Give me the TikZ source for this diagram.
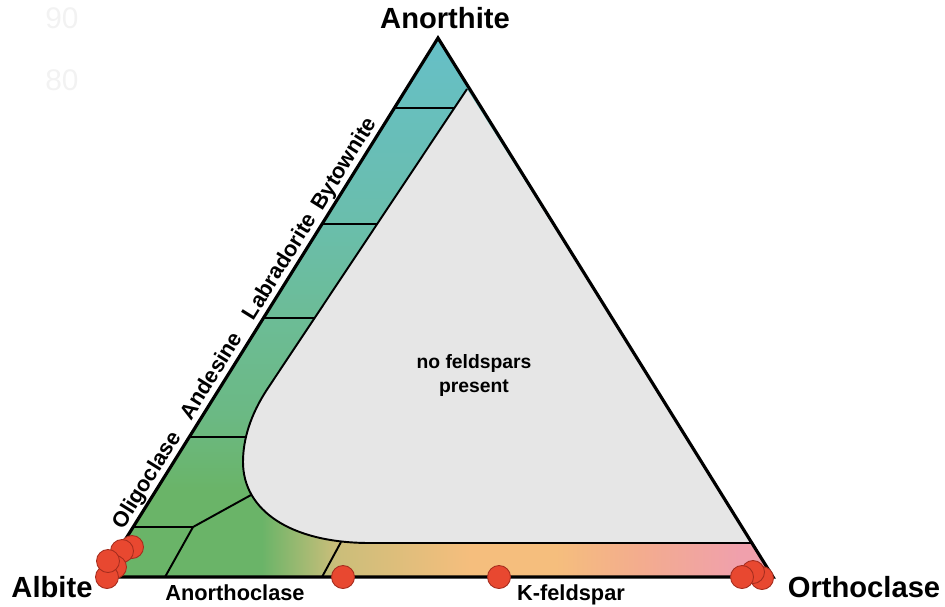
\documentclass[tikz,border=0pt]{standalone}
\usepackage{fontspec}
\setmainfont{Liberation Sans}

\definecolor{capteal}{RGB}{102,191,199}
\definecolor{capmint}{RGB}{106,190,172}
\definecolor{capsea}{RGB}{108,188,150}
\definecolor{capgreen}{RGB}{106,180,104}
\definecolor{capolive}{RGB}{202,190,122}
\definecolor{caporange}{RGB}{245,190,125}
\definecolor{capsalmon}{RGB}{243,172,142}
\definecolor{cappink}{RGB}{240,160,172}
\definecolor{nofsp}{RGB}{230,230,230}
\definecolor{dotred}{RGB}{232,72,48}
\definecolor{dotrim}{RGB}{165,45,30}

\pgfdeclareverticalshading{plagshade}{100bp}{color(0bp)=(capgreen); color(25bp)=(capgreen); color(33bp)=(capgreen); color(40bp)=(capsea!60!capgreen); color(49bp)=(capsea); color(58bp)=(capmint); color(75bp)=(capteal); color(100bp)=(capteal)}
\pgfdeclarehorizontalshading{alkshade}{100bp}{color(0bp)=(capgreen); color(25bp)=(capgreen); color(36.9bp)=(capgreen); color(42.4bp)=(capolive); color(52.4bp)=(caporange); color(58.8bp)=(caporange); color(65.1bp)=(capsalmon); color(72.5bp)=(cappink); color(100bp)=(cappink)}

\tikzset{
	corner/.style={font=\fontsize{16.6}{19}\selectfont\bfseries, inner sep=0pt, anchor=base},
	series/.style={font=\fontsize{12.4}{15}\selectfont\bfseries, inner sep=0pt, anchor=base},
	edgeline/.style={line width=1.8pt, line join=miter},
	zoneline/.style={line width=1.1pt},
	sample/.style={fill=dotred, draw=dotrim, line width=0.5pt}
}

\begin{document}
\begin{tikzpicture}[x=0.02cm, y=-0.02cm]
	\useasboundingbox (0,0) rectangle (945,606);

	\coordinate (Ab) at (102,577);
	\coordinate (Or) at (773,577);
	\coordinate (An) at (438,38);

	% colour fill
	\shade[shading=plagshade] (Ab) -- (Or) -- (An) -- cycle;
	\begin{scope}
		\clip (Ab) -- (Or) -- (An) -- cycle;
		\shade[shading=alkshade] (102,495) rectangle (773,577);
	\end{scope}

	% miscibility gap
	\fill[nofsp] (467,89) -- (268,388) .. controls (250,415) and (243,440) .. (243,462)
		.. controls (243,510) and (290,543) .. (370,543) -- (753,543) -- cycle;
	\draw[zoneline] (467,89) -- (268,388) .. controls (250,415) and (243,440) .. (243,462)
		.. controls (243,510) and (290,543) .. (370,543) -- (753,543);

	\draw[zoneline] (394,108) -- (454,108);
	\draw[zoneline] (322,224) -- (377,224);
	\draw[zoneline] (263,318) -- (315,318);
	\draw[zoneline] (189,437) -- (246,437);
	\draw[zoneline] (133,527) -- (193,527) -- (251,495);
	\draw[zoneline] (193,527) -- (165,577);
	\draw[zoneline] (341,542) -- (322,577);

	\draw[edgeline] (Ab) -- (Or) -- (An) -- cycle;

	% analyses
	\foreach \x/\y in {132/547, 122/551, 115/567, 107/577, 108/561, 343/577, 499/577, 762/578, 753/572, 742/577}
		\draw[sample] (\x,\y) circle (11.5);

	\node[corner] (anorthite) at (445,28) {Anorthite};
	\node[corner] (albite) at (52,597) {Albite};
	\node[corner] (orthoclase) at (864,597) {Orthoclase};

	\path ([shift={(-5.5,-3.4)}]Ab) -- ([shift={(-5.5,-3.4)}]An)
		node[series, sloped, pos=0.167] (oligoclase) {Oligoclase}
		node[series, sloped, pos=0.360] (andesine) {Andesine}
		node[series, sloped, pos=0.563] (labradorite) {Labradorite}
		node[series, sloped, pos=0.754] (bytownite) {Bytownite};

	\node[series] (anorthoclase) at (235,600) {Anorthoclase};
	\node[series] (kfeldspar) at (571,600) {K-feldspar};

	\node[font=\fontsize{11}{14.2}\selectfont\bfseries, align=center, inner sep=0pt] (gap) at (474,375.5) {no feldspars\\present};

	\node[text=black!5, font=\fontsize{17}{20}\selectfont, inner sep=0pt] (ninety) at (62,18) {90};
	\node[text=black!5, font=\fontsize{17}{20}\selectfont, inner sep=0pt] (eighty) at (62,80) {80};
\end{tikzpicture}
\end{document}
